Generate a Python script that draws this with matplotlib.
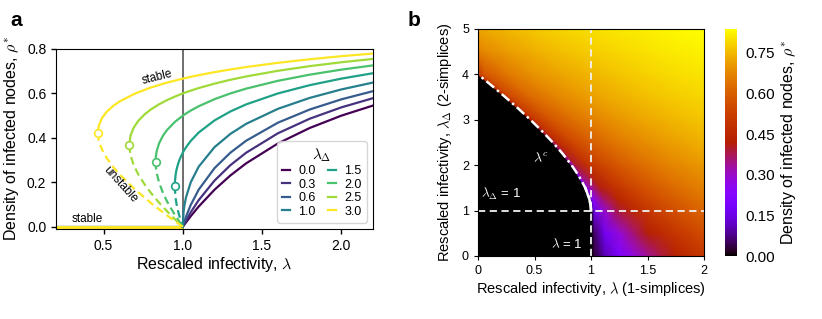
import numpy as np
import matplotlib
matplotlib.use("Agg")
import matplotlib.pyplot as plt

plt.rcParams['font.family'] = ['Liberation Sans', 'DejaVu Sans']
plt.rcParams['mathtext.fontset'] = 'cm'

# ---- panel a: mean-field solutions rho*(lambda) for several lambda_Delta ----
lam_deltas = [0.0, 0.3, 0.6, 1.0, 1.5, 2.0, 2.5, 3.0]

# shared lambda grid for lambda >= 1 (upper, stable branch)
lam_right = [1.0, 1.005, 1.01, 1.02, 1.05, 1.1, 1.2, 1.3, 1.4, 1.6, 1.8, 2.0, 2.2]
rho_right = [
    [0, .005, .0099, .0196, .0476, .0909, .1667, .2308, .2857, .375, .4444, .5, .5455],
    [0, .0071, .0140, .0275, .0650, .1196, .2078, .2770, .3333, .4207, .4861, .5373, .5787],
    [0, .0121, .0236, .0448, .0982, .1667, .2638, .3333, .3874, .4684, .5275, .5734, .6103],
    [0, .0683, .0951, .1318, .2, .2702, .3583, .4179, .4633, .5307, .5798, .6180, .6490],
    [.3333, .3398, .3459, .3573, .3863, .4239, .4786, .5188, .5508, .6, .6371, .6667, .6910],
    [.5, .5025, .5049, .5096, .5228, .5422, .5742, .6, .6217, .6568, .6844, .7071, .7262],
    [.6, .6013, .6026, .6052, .6126, .6241, .6442, .6614, .6765, .7019, .7228, .7403, .7554],
    [.6667, .6675, .6683, .6700, .6747, .6822, .6958, .7079, .7188, .7378, .7538, .7676, .7797],
]

# bistable part (lambda < 1) for lambda_Delta = 1.5, 2.0, 2.5, 3.0
fold_lam = [
    [.9495, .95, .955, .96, .97, .98, .99],
    [.8284, .83, .835, .85, .875, .9, .95],
    [.6623, .67, .69, .72, .76, .8, .85, .9, .95],
    [.4641, .47, .49, .52, .56, .6, .7, .8, .9],
]
fold_upper = [
    [.1835, .2, .2365, .2557, .2826, .3026, .3191],
    [.2929, .3161, .3395, .375, .4101, .4351, .4720],
    [.3675, .4102, .4459, .4774, .5064, .5287, .5511, .5698, .5859],
    [.4226, .4554, .4891, .5175, .5435, .5633, .6, .6270, .6486],
]
fold_lower = [
    [.1835, .1667, .1269, .1043, .0708, .0441, .0209],
    [.2929, .2689, .2430, .2, .1524, .1149, .0530],
    [.3675, .3218, .2781, .2346, .1896, .1513, .1089, .0702, .0341],
    [.4226, .3880, .3476, .3092, .2699, .2367, .1667, .1063, .0514],
]

# ---- panel b: rho* over the (lambda, lambda_Delta) plane ----
# each row runs from the edge of the absorbing region (hm_edge) to lambda = 2,
# sampled at the fractions hm_frac of that span
hm_lam_delta = [0, 0.5, 1.0, 1.25, 1.5, 2.0, 2.5, 3.0, 3.5, 4.0, 4.5, 5.0]
hm_edge = [1.0, 1.0, 1.0, 0.9861, 0.9495, 0.8284, 0.6623, 0.4641, 0.2417, 0.0, 0.0, 0.0]
hm_frac = [0, 0.03, 0.125, 0.25, 0.375, 0.5, 0.625, 0.75, 0.875, 1.0]
hm_rho = [
    [0, .0291, .1111, .2, .2727, .3333, .3846, .4286, .4667, .5],
    [0, .0539, .1754, .2808, .3561, .4142, .4611, .5, .5330, .5616],
    [0, .1589, .2965, .3904, .4529, .5, .5376, .5687, .5952, .6180],
    [.1056, .2415, .3603, .4420, .4968, .5383, .5716, .5993, .6229, .6434],
    [.1835, .3044, .4106, .4841, .5335, .5711, .6013, .6265, .6480, .6667],
    [.2929, .3958, .4868, .5497, .5922, .6245, .6506, .6723, .6909, .7071],
    [.3675, .4606, .5425, .5991, .6373, .6663, .6897, .7092, .7258, .7403],
    [.4226, .5095, .5855, .6379, .6732, .6998, .7213, .7391, .7544, .7676],
    [.4655, .5480, .6199, .6693, .7023, .7272, .7472, .7638, .7779, .7902],
    [.5, .5794, .6483, .6952, .7265, .75, .7688, .7844, .7976, .8090],
    [.6667, .6790, .7096, .7384, .7603, .7778, .7923, .8047, .8155, .8249],
    [.7236, .7307, .75, .7702, .7864, .8, .8116, .8217, .8306, .8385],
]

# critical line lambda^c(lambda_Delta)
crit_lam_delta = [1.0, 1.02, 1.1, 1.25, 1.5, 1.75, 2.0, 2.25, 2.5, 2.75, 3.0, 3.25, 3.5, 3.75, 4.0]
crit_lam = [1.0, .9999, .9976, .9861, .9495, .8958, .8284, .75, .6623, .5666, .4641, .3556, .2417, .1230, 0.0]

W, H = 822, 319
fig = plt.figure(figsize=(W / 100, H / 100), dpi=100)

ax1 = fig.add_axes([56 / W, 1 - 229 / H, 317 / W, 180 / H])
colors = plt.cm.viridis(np.linspace(0, 1, len(lam_deltas)))

ax1.axvline(1.0, color='#555555', lw=1.2, zorder=1)
for i, ld in enumerate(lam_deltas):
    c = colors[i]
    ax1.plot([0.2, 1.0], [0, 0], color=c, lw=2.2, zorder=2, solid_capstyle='butt')
    if i >= 4:
        k = i - 4
        x_up = fold_lam[k] + lam_right
        y_up = fold_upper[k] + rho_right[i]
        ax1.plot(x_up, y_up, color=c, lw=1.6, zorder=3, label=f"{ld:.1f}")
        ax1.plot(fold_lam[k] + [1.0], fold_lower[k] + [0.0], color=c, lw=1.6,
                 ls=(0, (3.5, 2)), zorder=3)
        ax1.plot(fold_lam[k][0], fold_upper[k][0], 'o', ms=5.5, mfc='white',
                 mec=c, mew=1.2, zorder=4)
    else:
        ax1.plot(lam_right, rho_right[i], color=c, lw=1.6, zorder=3, label=f"{ld:.1f}")

ax1.set_xlim(0.2, 2.2)
ax1.set_ylim(-0.01, 0.8)
ax1.set_xticks([0.5, 1.0, 1.5, 2.0])
ax1.set_yticks([0.0, 0.2, 0.4, 0.6, 0.8])
ax1.tick_params(labelsize=10, length=3.5, width=1)
ax1.set_xlabel(r"Rescaled infectivity, $\lambda$", fontsize=11.5, labelpad=2)
ax1.set_ylabel(r"Density of infected nodes, $\rho^{*}$", fontsize=11.5, labelpad=4)
ax1.text(0.836, 0.672, "stable", fontsize=8.5, rotation=14, ha='center', va='center')
ax1.text(0.40, 0.035, "stable", fontsize=8.5, ha='center', va='center')
ax1.text(0.605, 0.19, "unstable", fontsize=8.5, rotation=-48, ha='center', va='center')
leg = ax1.legend(title=r"$\lambda_\Delta$", ncol=2, loc='lower right', fontsize=9,
                 title_fontsize=11, handlelength=0.6, columnspacing=1.0,
                 handletextpad=0.7, labelspacing=0.12, borderpad=0.4)
fig.text(10 / W, 1 - 26 / H, "a", fontsize=15, fontweight='bold')

# ---- panel b ----
ax2 = fig.add_axes([478 / W, 1 - 256 / H, 226 / W, 227 / H])
ax2.set_facecolor('black')
frac = np.array(hm_frac)
edge = np.array(hm_edge)[:, None]
X = edge + (2.0 - edge) * frac[None, :]
Y = np.repeat(np.array(hm_lam_delta)[:, None], len(frac), axis=1)
C = np.array(hm_rho)
mesh = ax2.pcolormesh(X, Y, C, shading='gouraud', cmap='gnuplot', vmin=0, vmax=C.max())

ax2.axvline(1.0, color='#f2f2f2', lw=1.3, ls=(0, (4, 2.5)))
ax2.axhline(1.0, color='#f2f2f2', lw=1.3, ls=(0, (4, 2.5)))
ax2.plot(crit_lam, crit_lam_delta, color='white', lw=1.8, ls=(0, (4, 1.5, 1, 1.5)))
ax2.plot(crit_lam[:5], crit_lam_delta[:5], color='white', lw=1.8)

ax2.text(0.56, 2.15, r"$\lambda^c$", color='white', fontsize=10, ha='center', va='center')
ax2.text(0.03, 1.18, r"$\lambda_\Delta$ = 1", color='white', fontsize=9.5, ha='left', va='bottom')
ax2.text(0.93, 0.12, r"$\lambda$ = 1", color='white', fontsize=9.5, ha='right', va='bottom')

ax2.set_xlim(0, 2)
ax2.set_ylim(0, 5)
ax2.set_xticks([0, 0.5, 1, 1.5, 2])
ax2.set_xticklabels(["0", "0.5", "1", "1.5", "2"])
ax2.set_yticks([0, 1, 2, 3, 4, 5])
ax2.tick_params(labelsize=9, length=3)
ax2.set_xlabel(r"Rescaled infectivity, $\lambda$ (1-simplices)", fontsize=10.5, labelpad=2)
ax2.set_ylabel(r"Rescaled infectivity, $\lambda_\Delta$ (2-simplices)", fontsize=10.5, labelpad=6)
fig.text(408 / W, 1 - 26 / H, "b", fontsize=15, fontweight='bold')

cax = fig.add_axes([725 / W, 1 - 256 / H, 12 / W, 227 / H])
cb = fig.colorbar(mesh, cax=cax)
cb.outline.set_visible(False)
cb.set_ticks([0, 0.15, 0.30, 0.45, 0.60, 0.75])
cb.ax.set_yticklabels(["0.00", "0.15", "0.30", "0.45", "0.60", "0.75"])
cb.ax.tick_params(labelsize=11, length=0, pad=6)
cb.set_label(r"Density of infected nodes, $\rho^{*}$", fontsize=11.5, labelpad=3)

fig.savefig("out.png", dpi=100)
